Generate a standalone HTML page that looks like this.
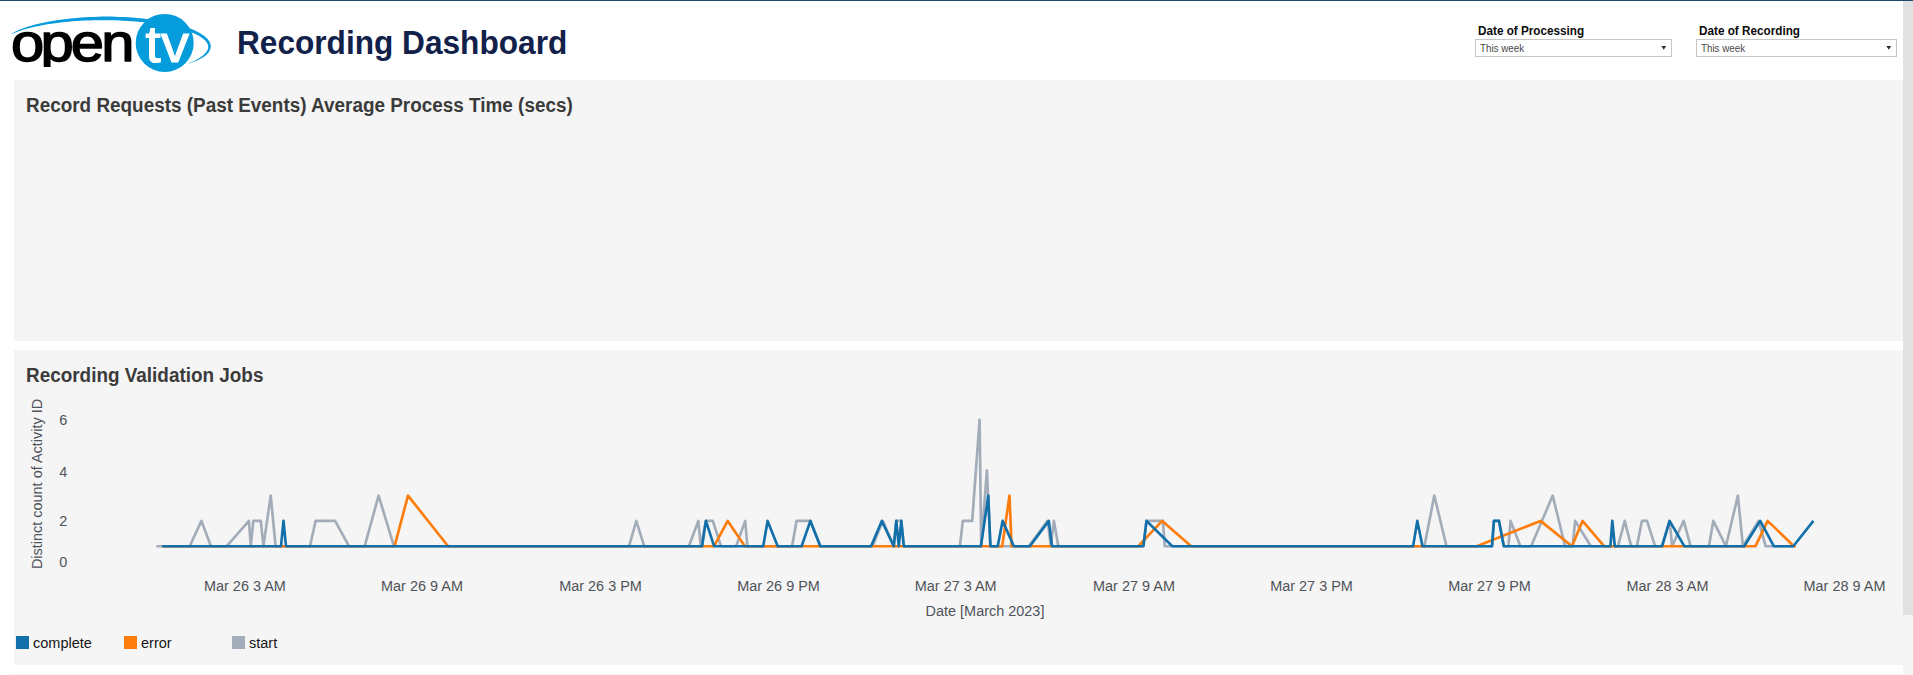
<!DOCTYPE html>
<html><head><meta charset="utf-8"><title>Recording Dashboard</title>
<style>
html,body{margin:0;padding:0;background:#fff;}
body{width:1913px;height:675px;overflow:hidden;position:relative;font-family:"Liberation Sans",Arial,sans-serif;}
.abs{position:absolute;white-space:nowrap;}
.topbar{left:0;top:0;width:1913px;height:1px;background:#1b4a6b;}
.panel{background:#f5f5f5;}
.ptitle{font-weight:bold;font-size:18.92px;color:#3b3b3b;line-height:22px;transform:scale(1,1.045);transform-origin:0 0;}
.flabel{font-weight:bold;font-size:12px;color:#0a0a0a;line-height:14px;transform:scale(0.977,1.04);transform-origin:0 0;}
.sel{box-sizing:border-box;border:1px solid #c6c6c6;background:#fff;height:18px;font-size:10px;color:#4a4a4a;line-height:17px;padding-left:4px;}
.sel svg{position:absolute;right:4px;top:4.8px;}
.sel span{display:inline-block;transform:scale(0.98,1.04);transform-origin:0 50%;position:relative;top:0px;}
.leg{font-size:14.5px;color:#161616;line-height:16px;transform:scale(1,1.04);transform-origin:0 0;}
.sq{width:13px;height:13px;}
svg text{font-family:"Liberation Sans",Arial,sans-serif;}
</style></head><body>
<div class="abs topbar"></div>
<div class="abs" style="left:1903px;top:1px;width:10px;height:614px;background:#e1e1e1"></div>

<svg class="abs" style="left:0;top:0" width="230" height="80" viewBox="0 0 230 80">
<path d="M11.7,33.5 L13.7,32.4 L15.9,31.3 L18.2,30.3 L20.7,29.3 L23.3,28.2 L26.1,27.3 L29.0,26.3 L32.0,25.4 L35.2,24.5 L38.5,23.7 L41.9,22.9 L45.4,22.2 L49.0,21.5 L52.7,20.9 L56.5,20.2 L60.4,19.7 L64.3,19.2 L68.4,18.7 L72.4,18.2 L76.6,17.9 L80.8,17.5 L85.0,17.3 L89.3,17.0 L93.6,16.9 L97.9,16.7 L102.2,16.6 L106.6,16.6 L110.9,16.6 L115.2,16.7 L119.5,16.9 L123.8,17.1 L128.0,17.3 L132.2,17.6 L136.4,17.9 L140.5,18.3 L144.6,18.7 L148.6,19.2 L152.5,19.7 L156.3,20.2 L160.0,20.8 L163.7,21.5 L167.2,22.2 L170.7,22.9 L174.0,23.7 L177.2,24.5 L180.3,25.4 L183.3,26.3 L186.1,27.2 L188.8,28.1 L191.4,29.1 L193.8,30.1 L196.1,31.1 L198.2,32.2 L200.2,33.3 L202.0,34.4 L203.7,35.5 L205.2,36.7 L206.5,37.9 L207.7,39.1 L208.6,40.4 L209.5,41.7 L210.1,43.0 L210.5,44.3 L210.8,45.7 L210.7,47.0 L210.5,48.4 L210.1,49.7 L209.5,50.9 L208.7,52.2 L207.8,53.4 L206.7,54.5 L205.4,55.7 L203.9,56.7 L202.3,57.8 L200.5,58.8 L198.6,59.8 L196.5,60.7 L194.3,61.6 L191.9,62.5 L189.4,63.4 L189.3,63.1 L191.7,62.1 L194.0,61.0 L196.1,59.9 L198.1,58.8 L199.9,57.7 L201.5,56.6 L202.9,55.4 L204.2,54.3 L205.3,53.2 L206.2,52.1 L207.0,51.0 L207.5,49.9 L207.9,48.9 L208.2,47.9 L208.2,46.9 L208.2,45.9 L208.0,45.0 L207.6,44.0 L207.1,43.0 L206.4,42.0 L205.6,41.0 L204.6,39.9 L203.4,38.9 L202.0,37.9 L200.5,36.8 L198.8,35.8 L196.9,34.8 L194.9,33.8 L192.7,32.9 L190.3,31.9 L187.8,31.0 L185.2,30.1 L182.4,29.3 L179.5,28.5 L176.4,27.7 L173.3,27.0 L170.0,26.3 L166.6,25.6 L163.1,25.0 L159.5,24.4 L155.8,23.8 L152.0,23.2 L148.1,22.7 L144.2,22.3 L140.2,21.9 L136.1,21.5 L132.0,21.2 L127.8,20.9 L123.6,20.7 L119.4,20.5 L115.1,20.3 L110.8,20.2 L106.5,20.2 L102.2,20.2 L98.0,20.2 L93.7,20.3 L89.4,20.4 L85.2,20.6 L81.0,20.8 L76.8,21.0 L72.7,21.3 L68.7,21.7 L64.7,22.1 L60.7,22.5 L56.9,22.9 L53.1,23.4 L49.4,24.0 L45.8,24.6 L42.3,25.2 L39.0,25.9 L35.7,26.6 L32.5,27.3 L29.5,28.0 L26.6,28.8 L23.8,29.6 L21.2,30.4 L18.7,31.3 L16.3,32.2 L14.1,33.1 L12.0,34.1Z" fill="#0a9cdc"/>
<circle cx="164.7" cy="42.9" r="29" fill="#059cdb"/>
<clipPath id="cl"><rect x="0" y="0" width="140" height="67"/></clipPath>
<g clip-path="url(#cl)"><text transform="translate(0,61.2) scale(1.17,1)" x="9.5 34.7 60.5 86.5" font-size="51" fill="#000" stroke="#000" stroke-width="1.4" stroke-linejoin="round">open</text></g>
<clipPath id="cl2"><rect x="140" y="28" width="60" height="40"/></clipPath>
<g clip-path="url(#cl2)"><text transform="translate(145.3,61.6) scale(1.03,1)" font-size="54.5" fill="#fff" stroke="#fff" stroke-width="1" stroke-linejoin="round">tv</text></g>
</svg>

<div class="abs" style="left:237.3px;top:23px;font-size:32px;font-weight:bold;color:#12214a;line-height:38px;transform:scale(0.988,1.04);transform-origin:0 0;">Recording Dashboard</div>

<div class="abs flabel" style="left:1478px;top:24px;">Date of Processing</div>
<div class="abs sel" style="left:1475px;top:39px;width:197px;"><span>This week</span><svg width="6" height="5" viewBox="0 0 6 5"><polygon points="0.3,0.9 5.2,0.9 2.75,4.7" fill="#2e2e2e"/></svg></div>
<div class="abs flabel" style="left:1699px;top:24px;">Date of Recording</div>
<div class="abs sel" style="left:1696px;top:39px;width:201px;"><span>This week</span><svg width="6" height="5" viewBox="0 0 6 5"><polygon points="0.3,0.9 5.2,0.9 2.75,4.7" fill="#2e2e2e"/></svg></div>

<div class="abs panel" style="left:14px;top:80px;width:1889px;height:261px;"></div>
<div class="abs ptitle" style="left:26px;top:94px;">Record Requests (Past Events) Average Process Time (secs)</div>

<div class="abs panel" style="left:14px;top:350px;width:1889px;height:315px;"></div>
<div class="abs panel" style="left:1903px;top:615px;width:10px;height:60px;"></div>
<div class="abs panel" style="left:14px;top:674px;width:1889px;height:1px;"></div>
<div class="abs ptitle" style="left:26px;top:364px;">Recording Validation Jobs</div>

<svg class="abs" style="left:0;top:390px" width="1913" height="240" viewBox="0 390 1913 240">
<g stroke="#f1f1f1" stroke-width="1"><line x1="75" x2="1895" y1="420.5" y2="420.5"/><line x1="75" x2="1895" y1="470.5" y2="470.5"/><line x1="75" x2="1895" y1="521.5" y2="521.5"/></g>
<g font-size="14.45" fill="#505359">
<text transform="translate(63.2,425.3) scale(1,1.04)" text-anchor="middle">6</text>
<text transform="translate(63.2,476.5) scale(1,1.04)" text-anchor="middle">4</text>
<text transform="translate(63.2,526) scale(1,1.04)" text-anchor="middle">2</text>
<text transform="translate(63.2,567.2) scale(1,1.04)" text-anchor="middle">0</text>
<text transform="translate(244.9,591.3) scale(1,1.04)" text-anchor="middle">Mar 26 3 AM</text><text transform="translate(422,591.3) scale(1,1.04)" text-anchor="middle">Mar 26 9 AM</text><text transform="translate(600.5,591.3) scale(1,1.04)" text-anchor="middle">Mar 26 3 PM</text><text transform="translate(778.5,591.3) scale(1,1.04)" text-anchor="middle">Mar 26 9 PM</text><text transform="translate(955.7,591.3) scale(1,1.04)" text-anchor="middle">Mar 27 3 AM</text><text transform="translate(1134,591.3) scale(1,1.04)" text-anchor="middle">Mar 27 9 AM</text><text transform="translate(1311.5,591.3) scale(1,1.04)" text-anchor="middle">Mar 27 3 PM</text><text transform="translate(1489.5,591.3) scale(1,1.04)" text-anchor="middle">Mar 27 9 PM</text><text transform="translate(1667.5,591.3) scale(1,1.04)" text-anchor="middle">Mar 28 3 AM</text><text transform="translate(1844.5,591.3) scale(1,1.04)" text-anchor="middle">Mar 28 9 AM</text>
<text transform="translate(985,616.2) scale(1,1.04)" text-anchor="middle">Date [March 2023]</text>
<text transform="translate(42.3,484) rotate(-90) scale(1,1.04)" text-anchor="middle">Distinct count of Activity ID</text>
</g>
<g fill="none" stroke-width="2.65" stroke-linejoin="round" stroke-linecap="butt">
<polyline stroke="#a3acb9" points="156.3,546.2 189.7,546.2 201.4,520.9 211,546.2 226.8,546.2 248.9,520.9 250.8,546.2 253.3,520.9 260.8,520.9 263.4,546.2 270.7,495.6 275.6,546.2 310,546.2 315.6,520.9 335.1,520.9 349,546.2 364.7,546.2 378.6,495.6 393.9,546.2 629,546.2 636.3,520.9 644.2,546.2 688.9,546.2 698.3,520.9 700.8,546.2 705.9,520.9 712.8,520.9 721,546.2 736.1,546.2 745.2,520.9 747.4,546.2 792.1,546.2 796.5,520.9 810.4,520.9 820.5,546.2 872.5,546.2 882.8,520.9 893.8,546.2 896.3,520.9 901.3,520.9 903.8,546.2 959.9,546.2 962.8,520.9 972.2,520.9 979.6,419.7 981.2,546.2 986.9,470.3 990.4,546.2 1028.8,546.2 1047.6,520.9 1050.8,546.2 1053.9,520.9 1058.3,546.2 1143.4,546.2 1146.5,520.9 1162.9,520.9 1164.8,546.2 1424.4,546.2 1434.3,495.6 1446.5,546.2 1492,546.2 1493.9,520.9 1499,520.9 1503.8,546.2 1508.4,546.2 1510.6,520.9 1520.4,546.2 1531.1,546.2 1552.7,495.6 1565.1,546.2 1572.6,546.2 1575.2,520.9 1590.9,546.2 1618,546.2 1624.7,520.9 1631.2,546.2 1636.9,546.2 1641.9,520.9 1647,520.9 1655.1,546.2 1662,546.2 1669.6,520.9 1672.1,546.2 1683.7,520.9 1690.6,546.2 1708.9,546.2 1713.3,520.9 1725.9,546.2 1737.9,495.6 1742.9,546.2 1758.6,520.9 1765.6,546.2 1793.5,546.2"/>
<polyline stroke="#fc7d0b" points="162.2,546.2 394.6,546.2 408,495.6 448.1,546.2 714.1,546.2 727.7,520.9 744.9,546.2 1002.2,546.2 1009.5,495.6 1011.6,546.2 1138.3,546.2 1162.2,520.9 1191.2,546.2 1476.8,546.2 1540.5,520.9 1572,546.2 1582.5,520.9 1604.1,546.2 1755.5,546.2 1767.7,520.9 1793.9,546.2 1795.8,546.2"/>
<polyline stroke="#1170aa" points="162.2,546.2 281,546.2 283.5,520.9 286,546.2 702.1,546.2 705.9,520.9 714.1,546.2 763.2,546.2 767.6,520.9 777.7,546.2 801.6,546.2 810.4,520.9 820.3,546.2 871.1,546.2 881.8,520.9 893.8,546.2 896.3,520.9 898.8,546.2 901.3,520.9 903.8,546.2 980.9,546.2 988.3,495.6 990.4,546.2 997.7,546.2 1002.6,520.9 1013.9,546.2 1029.8,546.2 1048.8,520.9 1052,546.2 1143.4,546.2 1146.5,520.9 1172.3,546.2 1413.1,546.2 1417.3,520.9 1422.5,546.2 1492,546.2 1493.9,520.9 1499,520.9 1503.8,546.2 1610.4,546.2 1612.3,520.9 1614.8,546.2 1662.1,546.2 1669.6,520.9 1684.3,546.2 1744.2,546.2 1760.2,520.9 1773.8,546.2 1793.3,546.2 1813.4,520.9"/>
</g>
</svg>

<div class="abs sq" style="left:16px;top:636px;background:#1170aa"></div>
<div class="abs leg" style="left:33px;top:633.6px;">complete</div>
<div class="abs sq" style="left:124px;top:636px;background:#fc7d0b"></div>
<div class="abs leg" style="left:141px;top:633.6px;">error</div>
<div class="abs sq" style="left:232px;top:636px;background:#a3acb9"></div>
<div class="abs leg" style="left:249px;top:633.6px;">start</div>
</body></html>
